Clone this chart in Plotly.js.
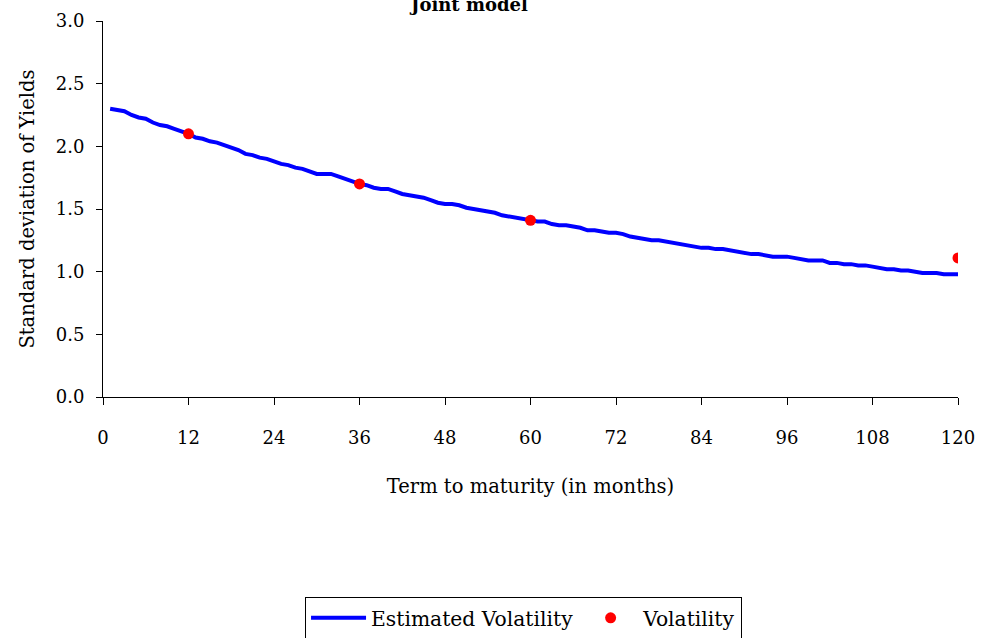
<!DOCTYPE html>
<html>
<head>
<meta charset="utf-8">
<script src="https://cdn.plot.ly/plotly-3.0.1.min.js"></script>
<style>
  html, body { margin: 0; padding: 0; background: #fff; }
  #chart { width: 984px; height: 638px; }
</style>
</head>
<body>
<div id="chart"></div>
<script>
// Term to maturity, months 1..120
const months = [];
for (let m = 1; m <= 120; m++) months.push(m);

// Model-implied standard deviation of yields by maturity
const estimatedVolatility = [
  2.30, 2.29, 2.28, 2.25, 2.23, 2.22, 2.19, 2.17, 2.16, 2.14,
  2.12, 2.10, 2.07, 2.06, 2.04, 2.03, 2.01, 1.99, 1.97, 1.94,
  1.93, 1.91, 1.90, 1.88, 1.86, 1.85, 1.83, 1.82, 1.80, 1.78,
  1.78, 1.78, 1.76, 1.74, 1.72, 1.70, 1.69, 1.67, 1.66, 1.66,
  1.64, 1.62, 1.61, 1.60, 1.59, 1.57, 1.55, 1.54, 1.54, 1.53,
  1.51, 1.50, 1.49, 1.48, 1.47, 1.45, 1.44, 1.43, 1.42, 1.41,
  1.40, 1.40, 1.38, 1.37, 1.37, 1.36, 1.35, 1.33, 1.33, 1.32,
  1.31, 1.31, 1.30, 1.28, 1.27, 1.26, 1.25, 1.25, 1.24, 1.23,
  1.22, 1.21, 1.20, 1.19, 1.19, 1.18, 1.18, 1.17, 1.16, 1.15,
  1.14, 1.14, 1.13, 1.12, 1.12, 1.12, 1.11, 1.10, 1.09, 1.09,
  1.09, 1.07, 1.07, 1.06, 1.06, 1.05, 1.05, 1.04, 1.03, 1.02,
  1.02, 1.01, 1.01, 1.00, 0.99, 0.99, 0.99, 0.98, 0.98, 0.98
];

// Observed volatility at selected maturities
const observedMonths = [12, 36, 60, 120];
const observedVolatility = [2.10, 1.70, 1.41, 1.11];

const xTicks = [0, 12, 24, 36, 48, 60, 72, 84, 96, 108, 120];

const serif = "DejaVu Serif, Liberation Serif, serif";

const traces = [
  {
    x: months,
    y: estimatedVolatility,
    type: "scatter",
    mode: "lines",
    name: "Estimated Volatility",
    line: { color: "#0000FF", width: 4 }
  },
  {
    x: observedMonths,
    y: observedVolatility,
    type: "scatter",
    mode: "markers",
    name: "Volatility",
    marker: { color: "#FF0000", size: 11 }
  }
];

const layout = {
  width: 984,
  height: 638,
  paper_bgcolor: "#fff",
  plot_bgcolor: "#fff",
  margin: { l: 103, r: 26, t: 21, b: 241 },
  font: { family: serif, size: 19, color: "#000" },
  title: {
    text: "<b>Joint model</b>",
    font: { family: serif, size: 18, color: "#000" },
    x: 0.477, xref: "container", xanchor: "center",
    y: 0.992, yref: "container", yanchor: "middle"
  },
  xaxis: {
    range: [0, 120],
    tickvals: xTicks,
    ticks: "outside",
    ticklen: 7,
    tickcolor: "#000",
    ticklabelstandoff: 17,
    showline: true,
    linecolor: "#000",
    linewidth: 1,
    showgrid: false,
    zeroline: false,
    automargin: false,
    tickfont: { family: serif, size: 18 },
    title: { text: "Term to maturity (in months)", font: { family: serif, size: 19.5 }, standoff: 32 }
  },
  yaxis: {
    range: [0, 3],
    dtick: 0.5,
    tickformat: ".1f",
    ticks: "outside",
    ticklen: 6,
    tickcolor: "#000",
    ticklabelstandoff: 8,
    showline: true,
    linecolor: "#000",
    linewidth: 1,
    showgrid: false,
    zeroline: false,
    automargin: false,
    tickfont: { family: serif, size: 18 },
    title: { text: "Standard deviation of Yields", font: { family: serif, size: 19.5 }, standoff: 15 }
  },
  showlegend: true,
  legend: {
    orientation: "h",
    xref: "container", yref: "container",
    x: 0.31, xanchor: "left",
    y: 0.064, yanchor: "top",
    itemwidth: 55,
    bordercolor: "#000",
    borderwidth: 1,
    bgcolor: "#fff",
    font: { family: serif, size: 20.3 }
  }
};

Plotly.newPlot("chart", traces, layout, { displayModeBar: false, staticPlot: true });
</script>
</body>
</html>
